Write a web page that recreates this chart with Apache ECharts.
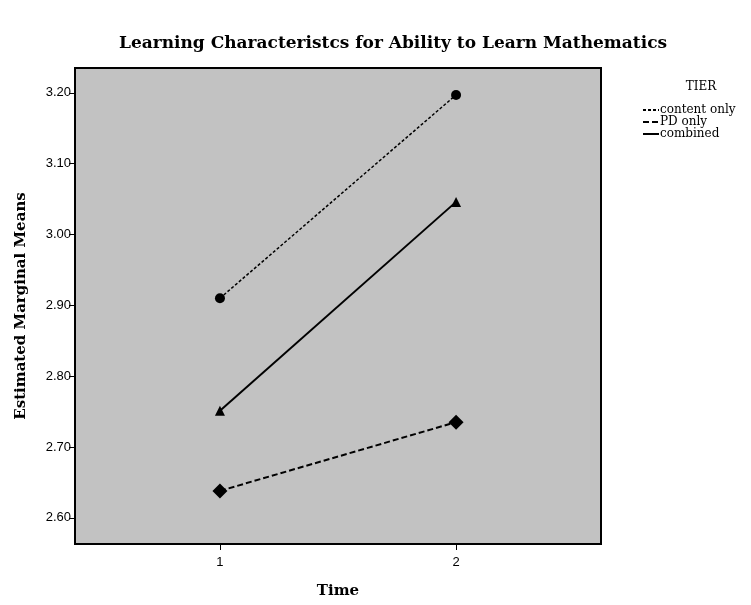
<!DOCTYPE html>
<html>
<head>
<meta charset="utf-8">
<script src="https://cdn.jsdelivr.net/npm/echarts@6/dist/echarts.min.js"></script>
<style>html,body{margin:0;padding:0;background:#fff;}#c{width:751px;height:605px;}</style>
</head>
<body>
<div id="c"></div>
<script>
const times = [1, 2];
const contentOnly = [2.91, 3.197];
const pdOnly = [2.638, 2.735];
const combined = [2.751, 3.046];
const yTicks = [2.6, 2.7, 2.8, 2.9, 3.0, 3.1, 3.2];
const xTicks = [1, 2];
const seriesNames = ['content only', 'PD only', 'combined'];

const chart = echarts.init(document.getElementById('c'), null, {renderer: 'canvas'});
const serif = 'DejaVu Serif';
function pts(vals) { return times.map((t, i) => [t, vals[i]]); }

chart.setOption({
  animation: false,
  backgroundColor: '#fff',
  title: [
    {text: 'Learning Characteristcs for Ability to Learn Mathematics', left: 388, top: 30, textAlign: 'center',
     textStyle: {fontFamily: serif, fontWeight: 'bold', fontSize: 17, color: '#000'}},
    {text: 'TIER', left: 696, top: 76, textAlign: 'center',
     textStyle: {fontFamily: serif, fontWeight: 'normal', fontSize: 12, color: '#000'}}
  ],
  legend: {
    data: seriesNames,
    orient: 'vertical',
    left: 637,
    top: 99,
    itemWidth: 16,
    itemHeight: 8,
    itemGap: 0,
    textStyle: {fontFamily: serif, fontSize: 12, lineHeight: 12, color: '#000', padding: [0,0,0,-4]},
    itemStyle: {opacity: 0},
    inactiveColor: '#000'
  },
  grid: {left: 75, right: 150, top: 68, bottom: 61, show: true, backgroundColor: '#c2c2c2', borderColor: '#000', borderWidth: 2},
  xAxis: {
    type: 'value', min: 0.386, max: 2.614,
    name: 'Time', nameLocation: 'middle', nameGap: 40,
    nameTextStyle: {fontFamily: serif, fontWeight: 'bold', fontSize: 15, color: '#000'},
    axisLine: {show: false},
    axisTick: {show: true, customValues: xTicks, length: 6, lineStyle: {color: '#000', width: 1}},
    axisLabel: {customValues: xTicks, fontFamily: 'Liberation Sans', fontSize: 13, color: '#000', margin: 12},
    splitLine: {show: false}
  },
  yAxis: {
    type: 'value', min: 2.563, max: 3.235,
    name: 'Estimated Marginal Means', nameLocation: 'middle', nameGap: 46,
    nameTextStyle: {fontFamily: serif, fontWeight: 'bold', fontSize: 15, color: '#000'},
    axisLine: {show: false},
    axisTick: {show: true, customValues: yTicks, length: 6, lineStyle: {color: '#000', width: 1}},
    axisLabel: {customValues: yTicks, formatter: v => v.toFixed(2), fontFamily: 'Liberation Sans', fontSize: 13, color: '#000', margin: 4},
    splitLine: {show: false}
  },
  series: [
    {name: 'content only', type: 'line', data: pts(contentOnly), symbol: 'circle', symbolSize: 10,
     itemStyle: {color: '#000'}, lineStyle: {color: '#000', width: 1.5, type: [3, 2]}},
    {name: 'PD only', type: 'line', data: pts(pdOnly), symbol: 'diamond', symbolSize: 15,
     itemStyle: {color: '#000'}, lineStyle: {color: '#000', width: 2, type: [6, 3]}},
    {name: 'combined', type: 'line', data: pts(combined), symbol: 'triangle', symbolSize: 10,
     itemStyle: {color: '#000'}, lineStyle: {color: '#000', width: 2, type: 'solid'}}
  ]
});
</script>
</body>
</html>
